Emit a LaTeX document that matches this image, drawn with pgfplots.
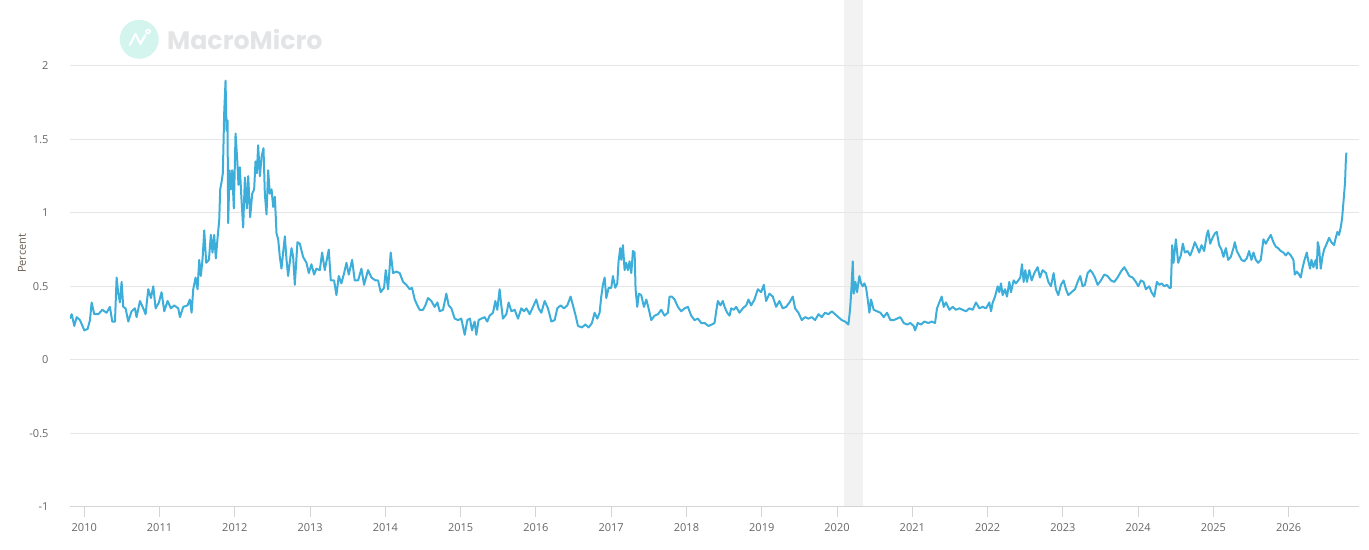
\documentclass[border=0pt]{standalone}
\usepackage{fontspec}
\setmainfont{Open Sans}
\newfontfamily\logofont{Poppins}
\usepackage{pgfplots}
\pgfplotsset{compat=1.18}

\definecolor{series}{HTML}{3DAEDA}
\definecolor{gridc}{HTML}{E6E6E6}
\definecolor{axisc}{HTML}{D4D4D4}
\definecolor{ticklab}{HTML}{666666}
\definecolor{band}{HTML}{F2F2F2}
\definecolor{logomint}{HTML}{D3F5EE}
\definecolor{logotext}{HTML}{E3E4E6}
\definecolor{ytitle}{HTML}{6A5D52}

\begin{document}
\begin{tikzpicture}[x=1pt,y=1pt]
% page frame
\path (0,0) rectangle (1369,550);

% watermark logo
\fill[logomint] (139.3,510.7) circle (19.5);
\draw[white, line width=2.2pt, line join=round, line cap=round]
  (130,505) -- (135.5,516) -- (140.5,506) -- (145.5,515);
\draw[white, line width=1.6pt] (148.2,518.5) circle (2);
\node[anchor=base west, inner sep=0pt, text=logotext,
      font=\logofont\bfseries\fontsize{25.3}{26}\selectfont] at (167,500.5) {MacroMicro};

\begin{axis}[
  set layers,
  at={(70pt,43pt)}, anchor=south west,
  scale only axis, width=1290pt, height=507pt,
  xmin=2009.81, xmax=2026.935,
  ymin=-1, ymax=2.449,
  axis line style={draw=none},
  xtick={2010,2011,...,2026},
  ytick={-0.5,0,0.5,1,1.5,2},
  extra y ticks={-1},
  extra y tick style={grid style={axisc, line width=1pt}},
  ymajorgrids,
  grid style={gridc, line width=1pt},
  tick align=outside,
  xtick pos=bottom,
  major tick length=10pt,
  xtick style={draw=axisc, line width=1pt},
  ytick style={draw=none},
  /pgf/number format/assume math mode=true,
  x tick label style={/pgf/number format/1000 sep={},
    font=\fontsize{11}{13}\selectfont, text=ticklab, yshift=-3pt},
  y tick label style={font=\fontsize{11}{13}\selectfont, text=ticklab, xshift=-8pt},
  ylabel={Percent},
  ylabel style={at={(axis description cs:-0.0372,0.5)}, anchor=center,
    font=\fontsize{11}{13}\selectfont, text=ytitle},
  clip=true,
]

% shaded recession period
\begin{pgfonlayer}{axis background}
\fill[band] (axis cs:2020.09,-1) rectangle (axis cs:2020.34,2.449);
\end{pgfonlayer}

\addplot[series, line width=2pt, line join=round] coordinates {
(2009.810,0.28)(2009.833,0.31)(2009.868,0.23)(2009.899,0.29)(2009.943,0.27)(2010.001,0.20)(2010.045,0.21)(2010.076,0.27)(2010.098,0.39)(2010.133,0.31)(2010.187,0.31)(2010.240,0.34)(2010.297,0.32)(2010.341,0.36)(2010.372,0.26)(2010.408,0.26)(2010.430,0.56)(2010.452,0.45)(2010.474,0.39)(2010.496,0.53)(2010.518,0.36)(2010.549,0.35)(2010.585,0.26)(2010.629,0.33)(2010.673,0.35)(2010.695,0.29)(2010.740,0.40)(2010.784,0.35)(2010.815,0.31)(2010.850,0.48)(2010.886,0.42)(2010.917,0.50)(2010.948,0.35)(2010.992,0.39)(2011.027,0.46)(2011.063,0.33)(2011.107,0.40)(2011.151,0.35)(2011.195,0.37)(2011.249,0.35)(2011.271,0.29)(2011.315,0.36)(2011.372,0.37)(2011.403,0.41)(2011.426,0.32)(2011.448,0.48)(2011.479,0.56)(2011.505,0.48)(2011.527,0.68)(2011.549,0.57)(2011.572,0.69)(2011.594,0.88)(2011.620,0.66)(2011.656,0.68)(2011.682,0.85)(2011.704,0.73)(2011.726,0.85)(2011.748,0.69)(2011.771,0.83)(2011.793,0.95)(2011.806,1.16)(2011.824,1.21)(2011.841,1.27)(2011.859,1.68)(2011.877,1.90)(2011.890,1.56)(2011.903,1.63)(2011.912,0.93)(2011.930,1.29)(2011.948,1.16)(2011.965,1.29)(2011.987,1.03)(2012.010,1.54)(2012.032,1.36)(2012.049,1.19)(2012.067,1.31)(2012.089,1.09)(2012.111,0.90)(2012.134,1.24)(2012.160,1.03)(2012.178,1.25)(2012.204,0.97)(2012.231,1.13)(2012.257,1.16)(2012.275,1.35)(2012.293,1.27)(2012.310,1.46)(2012.333,1.25)(2012.355,1.38)(2012.381,1.44)(2012.399,1.13)(2012.421,0.99)(2012.443,1.29)(2012.465,1.13)(2012.488,1.16)(2012.510,1.04)(2012.532,1.11)(2012.554,0.86)(2012.576,0.82)(2012.598,0.70)(2012.620,0.62)(2012.642,0.73)(2012.665,0.84)(2012.687,0.68)
(2012.708,0.57)(2012.753,0.76)(2012.775,0.70)(2012.797,0.51)(2012.832,0.80)(2012.863,0.79)(2012.907,0.70)(2012.952,0.66)(2012.983,0.59)(2013.018,0.65)(2013.053,0.58)(2013.084,0.62)(2013.129,0.61)(2013.160,0.73)(2013.195,0.61)(2013.248,0.75)(2013.275,0.54)(2013.319,0.54)(2013.350,0.44)(2013.381,0.57)(2013.416,0.52)(2013.452,0.59)(2013.483,0.66)(2013.514,0.58)(2013.558,0.68)(2013.593,0.54)(2013.638,0.54)(2013.682,0.62)(2013.717,0.51)(2013.770,0.61)(2013.815,0.56)(2013.868,0.54)(2013.903,0.54)(2013.938,0.46)(2013.983,0.49)(2014.005,0.61)(2014.036,0.48)(2014.071,0.73)(2014.102,0.59)(2014.146,0.60)(2014.191,0.59)(2014.235,0.53)(2014.279,0.51)(2014.323,0.48)(2014.354,0.49)(2014.390,0.41)(2014.425,0.37)(2014.456,0.34)(2014.500,0.34)(2014.531,0.37)(2014.567,0.42)(2014.611,0.40)(2014.655,0.36)(2014.691,0.39)(2014.722,0.33)(2014.766,0.34)(2014.810,0.45)(2014.841,0.37)(2014.877,0.35)(2014.921,0.28)(2014.965,0.27)(2015.009,0.28)(2015.054,0.17)(2015.089,0.27)(2015.124,0.28)(2015.151,0.20)(2015.186,0.26)(2015.208,0.17)(2015.239,0.27)(2015.275,0.28)(2015.319,0.29)(2015.354,0.26)(2015.385,0.30)(2015.430,0.32)(2015.461,0.40)(2015.487,0.34)(2015.518,0.48)(2015.540,0.37)(2015.562,0.28)
(2015.607,0.31)(2015.638,0.39)(2015.674,0.33)(2015.718,0.34)(2015.762,0.28)(2015.806,0.35)(2015.842,0.33)(2015.873,0.35)(2015.917,0.31)(2015.961,0.36)(2016.005,0.41)(2016.036,0.35)(2016.072,0.32)(2016.116,0.40)(2016.160,0.35)(2016.205,0.26)(2016.249,0.27)(2016.284,0.35)(2016.328,0.37)(2016.373,0.35)(2016.417,0.37)(2016.461,0.43)(2016.492,0.37)(2016.523,0.31)(2016.559,0.23)(2016.612,0.22)(2016.656,0.24)(2016.700,0.22)(2016.744,0.25)(2016.780,0.32)(2016.815,0.28)(2016.846,0.32)(2016.868,0.43)(2016.890,0.51)(2016.913,0.56)(2016.935,0.42)(2016.966,0.49)(2017.001,0.49)(2017.023,0.57)(2017.054,0.49)(2017.081,0.52)(2017.098,0.67)(2017.120,0.76)(2017.134,0.68)(2017.156,0.78)(2017.178,0.61)(2017.200,0.66)(2017.222,0.61)(2017.244,0.67)(2017.267,0.59)(2017.289,0.74)(2017.311,0.73)(2017.324,0.48)(2017.346,0.36)(2017.368,0.45)(2017.399,0.44)(2017.435,0.36)(2017.466,0.41)(2017.497,0.35)(2017.532,0.27)(2017.576,0.30)(2017.621,0.31)(2017.665,0.34)(2017.709,0.30)(2017.753,0.32)(2017.775,0.43)(2017.806,0.43)(2017.842,0.41)(2017.886,0.36)(2017.930,0.33)(2017.975,0.35)(2018.019,0.36)(2018.063,0.30)(2018.107,0.27)(2018.152,0.28)(2018.196,0.25)(2018.240,0.25)(2018.293,0.23)(2018.337,0.24)(2018.373,0.25)(2018.395,0.33)(2018.417,0.40)(2018.452,0.37)(2018.483,0.40)(2018.506,0.36)(2018.541,0.32)(2018.572,0.30)
(2018.594,0.35)(2018.629,0.34)(2018.660,0.36)(2018.704,0.32)(2018.748,0.35)(2018.793,0.37)(2018.824,0.41)(2018.859,0.37)(2018.903,0.41)(2018.948,0.48)(2018.992,0.46)(2019.027,0.51)(2019.058,0.40)(2019.102,0.45)(2019.147,0.43)(2019.191,0.36)(2019.235,0.40)(2019.279,0.35)(2019.324,0.36)(2019.368,0.39)(2019.412,0.43)(2019.443,0.35)(2019.487,0.32)(2019.532,0.27)(2019.576,0.29)(2019.620,0.28)(2019.664,0.29)(2019.709,0.27)(2019.753,0.31)(2019.797,0.29)(2019.841,0.32)(2019.886,0.31)(2019.930,0.33)(2019.974,0.31)(2020.018,0.29)(2020.063,0.27)(2020.107,0.26)(2020.151,0.24)(2020.173,0.34)(2020.191,0.48)(2020.209,0.67)(2020.222,0.45)(2020.244,0.53)(2020.266,0.46)(2020.297,0.57)(2020.319,0.52)(2020.341,0.50)(2020.364,0.52)(2020.386,0.49)(2020.408,0.41)(2020.430,0.32)(2020.452,0.41)(2020.487,0.34)(2020.532,0.33)(2020.576,0.32)(2020.620,0.29)(2020.664,0.32)(2020.709,0.27)(2020.753,0.27)(2020.797,0.28)(2020.841,0.29)(2020.886,0.25)(2020.930,0.24)(2020.974,0.25)(2021.018,0.23)(2021.036,0.20)(2021.072,0.25)(2021.116,0.24)(2021.160,0.26)(2021.213,0.25)(2021.257,0.26)(2021.302,0.25)(2021.328,0.35)(2021.359,0.39)(2021.390,0.43)(2021.417,0.36)(2021.448,0.39)
(2021.492,0.34)(2021.537,0.36)(2021.581,0.34)(2021.625,0.35)(2021.669,0.34)(2021.714,0.33)(2021.758,0.35)(2021.802,0.34)(2021.846,0.39)(2021.891,0.35)(2021.935,0.36)(2021.979,0.35)(2022.023,0.39)(2022.046,0.33)(2022.068,0.39)(2022.099,0.43)(2022.134,0.50)(2022.156,0.46)(2022.178,0.52)(2022.200,0.44)(2022.231,0.48)(2022.258,0.43)(2022.289,0.53)(2022.311,0.46)(2022.346,0.54)(2022.377,0.52)(2022.408,0.54)(2022.435,0.56)(2022.457,0.65)(2022.479,0.53)(2022.501,0.61)(2022.523,0.53)(2022.554,0.61)(2022.585,0.54)(2022.621,0.59)(2022.665,0.63)(2022.696,0.56)(2022.731,0.61)(2022.776,0.59)(2022.807,0.53)(2022.842,0.50)(2022.877,0.59)(2022.908,0.48)(2022.939,0.44)(2022.975,0.51)(2023.010,0.54)(2023.041,0.48)(2023.072,0.44)(2023.116,0.46)(2023.161,0.48)(2023.196,0.53)(2023.231,0.57)(2023.262,0.50)(2023.293,0.51)(2023.329,0.59)(2023.364,0.61)(2023.395,0.59)(2023.426,0.56)(2023.462,0.51)(2023.506,0.54)(2023.550,0.58)(2023.594,0.57)(2023.639,0.54)(2023.683,0.53)(2023.727,0.56)(2023.771,0.60)(2023.816,0.63)(2023.851,0.60)(2023.882,0.57)(2023.926,0.56)(2023.970,0.53)(2024.001,0.50)(2024.037,0.54)(2024.072,0.53)(2024.103,0.48)(2024.147,0.50)(2024.178,0.46)(2024.214,0.43)(2024.249,0.53)(2024.280,0.51)(2024.311,0.52)(2024.347,0.50)(2024.382,0.51)(2024.413,0.49)
(2024.435,0.49)(2024.452,0.78)(2024.470,0.66)(2024.501,0.82)(2024.532,0.66)(2024.567,0.71)(2024.594,0.79)(2024.620,0.73)(2024.656,0.74)(2024.691,0.71)(2024.722,0.75)(2024.753,0.80)(2024.780,0.77)(2024.811,0.73)(2024.842,0.78)(2024.877,0.74)(2024.912,0.85)(2024.930,0.88)(2024.957,0.79)(2024.988,0.83)(2025.019,0.86)(2025.045,0.87)(2025.076,0.78)(2025.107,0.75)(2025.134,0.70)(2025.165,0.76)(2025.196,0.68)(2025.231,0.70)(2025.266,0.76)(2025.284,0.80)(2025.311,0.74)(2025.342,0.71)(2025.373,0.68)(2025.408,0.67)(2025.443,0.69)(2025.474,0.74)(2025.505,0.68)(2025.532,0.73)(2025.563,0.68)(2025.594,0.66)(2025.629,0.68)(2025.665,0.82)(2025.696,0.79)(2025.727,0.82)(2025.762,0.85)(2025.797,0.80)(2025.828,0.77)(2025.859,0.76)(2025.895,0.74)(2025.930,0.73)(2025.961,0.71)(2025.992,0.73)(2026.028,0.71)(2026.063,0.68)(2026.081,0.58)(2026.107,0.60)(2026.138,0.58)(2026.160,0.56)(2026.182,0.62)(2026.205,0.67)(2026.240,0.73)(2026.262,0.67)(2026.284,0.62)(2026.302,0.68)(2026.328,0.63)(2026.359,0.68)(2026.373,0.62)(2026.386,0.80)(2026.404,0.76)(2026.426,0.62)(2026.448,0.70)(2026.470,0.75)(2026.505,0.79)(2026.536,0.83)(2026.567,0.80)(2026.603,0.78)(2026.625,0.83)(2026.647,0.87)(2026.669,0.85)(2026.691,0.90)(2026.709,0.96)(2026.722,1.04)(2026.735,1.12)(2026.749,1.21)(2026.758,1.34)(2026.766,1.41)
};
\end{axis}
\end{tikzpicture}
\end{document}
